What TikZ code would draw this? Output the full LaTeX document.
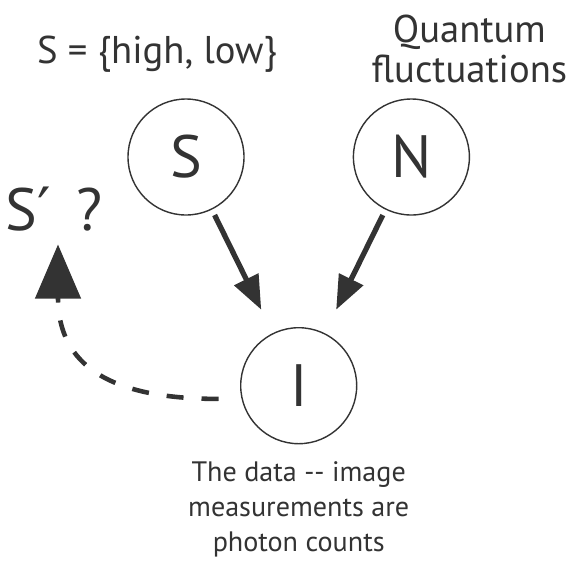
\documentclass[tikz,border=0pt]{standalone}
\usepackage{fontspec}
\setmainfont{PT Sans}
\newfontfamily\primefont{DejaVu Sans}
\usepackage{tikz}
\usetikzlibrary{arrows.meta,positioning,calc}
\definecolor{gInk}{RGB}{51,51,51}
\tikzset{
varnode/.style={circle,draw=gInk,line width=0.8pt,fill=white,minimum size=2.32cm,inner sep=0pt,text=gInk,font=\fontsize{34}{40}\selectfont},
note/.style={align=center,text=gInk,font=\fontsize{16}{20}\selectfont},
bignote/.style={align=center,text=gInk,font=\fontsize{22}{23}\selectfont},
arrow/.style={-{Triangle[length=0.68cm,width=0.52cm]},line width=3pt,draw=gInk,shorten <=0.12cm,shorten >=0.52cm},
backarrow/.style={-{Triangle[length=1.08cm,width=0.9cm]},line width=2.6pt,draw=gInk,dash pattern=on 0.34cm off 0.36cm}
}

\begin{document}
\begin{tikzpicture}[node distance=1.4cm and 2.0cm]
\useasboundingbox (0,0) rectangle (11.38,-11.22);
\node[varnode] at (3.72,-3.14) (S) {S};
\node[varnode,right=2.16cm of S] (N) {N};
\node[varnode,below=3.4cm of $(S)!0.5!(N)$] (I) {I};
\node[bignote,above=0.4cm of S,xshift=-0.58cm] (states) {S = \{high, low\}};
\node[bignote,above=0.18cm of N,xshift=1.16cm] (noise) {Quantum\\fluctuations};
\node[note,below=0.22cm of I] (data) {The data -{}- image\\measurements are\\photon counts};
\node[text=gInk,inner sep=2pt,font=\fontsize{34}{40}\selectfont] at (1.08,-4.18) (guess) {S{\primefont ′}\hspace{0.42em}?};
\coordinate[left=0.46cm of I.193] (back);
\draw[arrow] (S)--(I);
\draw[arrow] (N)--(I);
\draw[backarrow] (back) .. controls +(-2.2,0) and +(0,-2.4) .. ([xshift=0.08cm,yshift=-0.19cm]guess.south);
\end{tikzpicture}
\end{document}
